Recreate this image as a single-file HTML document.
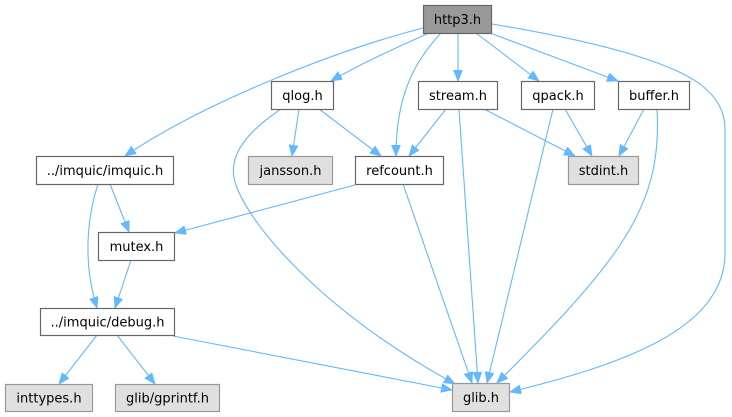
<!DOCTYPE html>
<html><head><meta charset="utf-8">
<style>
html,body{margin:0;padding:0;background:#fff;}
svg{display:block;}
text{font-family:"DejaVu Sans","Liberation Sans",sans-serif;font-size:13px;fill:#000;text-anchor:middle;}
.e{fill:none;stroke:#63b8ff;stroke-width:1.1;}
.w{fill:#fff;stroke:#666;stroke-width:1.2;}
.g{fill:#e0e0e0;stroke:#999;stroke-width:1.2;}
.m{fill:#999;stroke:#666;stroke-width:1.2;}
</style></head>
<body>
<svg width="732" height="417" viewBox="0 0 732 417" xmlns="http://www.w3.org/2000/svg">
<defs>
<marker id="a" markerUnits="userSpaceOnUse" markerWidth="12" markerHeight="10" refX="11" refY="4.5" orient="auto">
<path d="M0,0 L11,4.5 L0,9 z" fill="#63b8ff" stroke="#63b8ff" stroke-width="0.8"/>
</marker>
</defs>
<!-- edges -->
<path class="e" marker-end="url(#a)" d="M423,28 C330,52 200,105 125,156"/>
<path class="e" marker-end="url(#a)" d="M429,33 C400,46 360,64 331,81"/>
<path class="e" marker-end="url(#a)" d="M441,33 C418,58 396,90 396,156"/>
<path class="e" marker-end="url(#a)" d="M458,33 L458,81"/>
<path class="e" marker-end="url(#a)" d="M476,33 L539,81"/>
<path class="e" marker-end="url(#a)" d="M490,33 L618,81"/>
<path class="e" marker-end="url(#a)" d="M492,24 C600,42 670,62 700,84 C718,98 725,112 725,130 L725,253 C725,330 620,365 510,392"/>
<path class="e" marker-end="url(#a)" d="M299,109 L292,156"/>
<path class="e" marker-end="url(#a)" d="M319,109 L381,156"/>
<path class="e" marker-end="url(#a)" d="M281,109 C250,130 225,155 236,185 C250,225 320,310 455,384"/>
<path class="e" marker-end="url(#a)" d="M446,109 L409,156"/>
<path class="e" marker-end="url(#a)" d="M484,109 L575,156"/>
<path class="e" marker-end="url(#a)" d="M459,109 L478,383"/>
<path class="e" marker-end="url(#a)" d="M565,109 L592,156"/>
<path class="e" marker-end="url(#a)" d="M553,109 L487,383"/>
<path class="e" marker-end="url(#a)" d="M644,109 L619,156"/>
<path class="e" marker-end="url(#a)" d="M657,109 C660,160 650,200 620,245 C590,290 540,340 497,383"/>
<path class="e" marker-end="url(#a)" d="M355,185 L175,233"/>
<path class="e" marker-end="url(#a)" d="M403,184 L472,383"/>
<path class="e" marker-end="url(#a)" d="M110,184 L129,232"/>
<path class="e" marker-end="url(#a)" d="M98,184 C88,215 82,260 97,308"/>
<path class="e" marker-end="url(#a)" d="M131,260 L115,308"/>
<path class="e" marker-end="url(#a)" d="M97,335 L59,384"/>
<path class="e" marker-end="url(#a)" d="M117,335 L155,384"/>
<path class="e" marker-end="url(#a)" d="M173,336 L452,390"/>
<!-- nodes -->
<rect class="m" x="423.5" y="5.5" width="68" height="28"/><text x="457.5" y="24">http3.h</text>
<rect class="w" x="271.5" y="81.5" width="62" height="28"/><text x="302.5" y="100">qlog.h</text>
<rect class="w" x="418.5" y="81.5" width="79" height="28"/><text x="458" y="100">stream.h</text>
<rect class="w" x="521.5" y="81.5" width="73" height="28"/><text x="558" y="100">qpack.h</text>
<rect class="w" x="618.5" y="81.5" width="71" height="28"/><text x="654" y="100">buffer.h</text>
<rect class="w" x="36.5" y="156.5" width="137" height="28"/><text x="105" y="175">../imquic/imquic.h</text>
<rect class="g" x="248.5" y="156.5" width="84" height="28"/><text x="290.5" y="175">jansson.h</text>
<rect class="w" x="355.5" y="156.5" width="88" height="28"/><text x="399.5" y="175">refcount.h</text>
<rect class="g" x="568.5" y="156.5" width="70" height="28"/><text x="603.5" y="175">stdint.h</text>
<rect class="w" x="98.5" y="232.5" width="76" height="28"/><text x="136.5" y="251">mutex.h</text>
<rect class="w" x="40.5" y="308.5" width="134" height="27"/><text x="107.5" y="326.5">../imquic/debug.h</text>
<rect class="g" x="5.5" y="384.5" width="87" height="27"/><text x="49" y="402.5">inttypes.h</text>
<rect class="g" x="115.5" y="384.5" width="104" height="27"/><text x="167.5" y="402.5">glib/gprintf.h</text>
<rect class="g" x="452.5" y="383.5" width="57" height="28"/><text x="481" y="402">glib.h</text>
</svg>
</body></html>
